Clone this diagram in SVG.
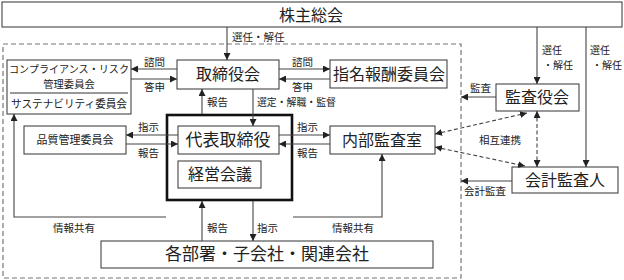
<svg xmlns="http://www.w3.org/2000/svg" width="624" height="280" viewBox="0 0 624 280">
<defs>
<marker id="ah" viewBox="0 0 10 10" refX="10" refY="5" markerWidth="7" markerHeight="7" markerUnits="userSpaceOnUse" orient="auto-start-reverse">
<path d="M0,0 L10,5 L0,10 z" fill="#222"/>
</marker>
<style>
.box{fill:#fff;stroke:#333;stroke-width:1}
.thick{fill:#fff;stroke:#111;stroke-width:2.6}
.ln{fill:none;stroke:#444;stroke-width:1.1}
.dl{fill:none;stroke:#444;stroke-width:1.1;stroke-dasharray:4,2.5}
.bd{fill:none;stroke:#777;stroke-width:1.2;stroke-dasharray:5,3}
text{font-family:"Noto Sans CJK JP","Noto Sans CJK SC",sans-serif;fill:#222}
.t16{font-size:16px;text-anchor:middle}
.t17{font-size:17px;text-anchor:middle}
.t11{font-size:11px;text-anchor:middle}
.t10{font-size:10.3px;text-anchor:middle}
.lb{font-size:10.5px}
.ls{font-size:10px}
</style>
</defs>
<rect x="3" y="44" width="458" height="234" class="bd"/>
<g id="shareholders"><rect x="2" y="2" width="620" height="25" class="box"/><text x="311" y="21" class="t16">株主総会</text></g>
<g id="board"><rect x="177" y="60" width="102" height="29" class="box"/><text x="228" y="80" class="t16">取締役会</text></g>
<g id="compliance"><rect x="7" y="60" width="124" height="54" class="box"/>
<text x="69" y="72.5" class="t10" textLength="120" lengthAdjust="spacingAndGlyphs">コンプライアンス・リスク</text>
<text x="69" y="88" class="t10">管理委員会</text>
<line x1="10" y1="93" x2="128" y2="93" stroke="#333" stroke-width="1"/>
<text x="69" y="108" class="t11" textLength="116" lengthAdjust="spacingAndGlyphs">サステナビリティ委員会</text></g>
<g id="nomination"><rect x="330" y="60" width="117" height="28" class="box"/><text x="389" y="80" class="t16">指名報酬委員会</text></g>
<g id="auditboard"><rect x="496" y="84" width="83" height="27" class="box"/><text x="537" y="103" class="t16">監査役会</text></g>
<g id="ceo"><rect x="167" y="115" width="125" height="85" class="thick"/>
<rect x="178" y="126" width="101" height="28" class="box"/><text x="228" y="146" class="t17">代表取締役</text>
<rect x="178" y="161" width="83" height="27" class="box"/><text x="220" y="180" class="t16">経営会議</text></g>
<g id="quality"><rect x="24" y="126" width="102" height="28" class="box"/><text x="75" y="144" class="t11">品質管理委員会</text></g>
<g id="internalaudit"><rect x="330" y="126" width="105" height="28" class="box"/><text x="382" y="146" class="t16">内部監査室</text></g>
<g id="accountant"><rect x="512" y="167" width="106" height="26" class="box"/><text x="565" y="186" class="t16">会計監査人</text></g>
<g id="departments"><rect x="101" y="241" width="332" height="27" class="box"/><text x="267" y="260" class="t17">各部署・子会社・関連会社</text></g>
<g id="connectors">
<path d="M227,27 V60" class="ln" marker-end="url(#ah)"/>
<path d="M177,69 H131" class="ln" marker-end="url(#ah)"/>
<path d="M131,79 H177" class="ln" marker-end="url(#ah)"/>
<path d="M279,69 H330" class="ln" marker-end="url(#ah)"/>
<path d="M330,79 H279" class="ln" marker-end="url(#ah)"/>
<path d="M202,114 V89" class="ln" marker-end="url(#ah)"/>
<path d="M253,89 V126" class="ln" marker-end="url(#ah)"/>
<path d="M178,135 H126" class="ln" marker-end="url(#ah)"/>
<path d="M126,144 H178" class="ln" marker-end="url(#ah)"/>
<path d="M279,135 H330" class="ln" marker-end="url(#ah)"/>
<path d="M330,144 H279" class="ln" marker-end="url(#ah)"/>
<path d="M166,217 H14 V114" class="ln" marker-end="url(#ah)"/>
<path d="M293,217 H382 V154" class="ln" marker-end="url(#ah)"/>
<path d="M202,241 V201" class="ln" marker-end="url(#ah)"/>
<path d="M253,201 V241" class="ln" marker-end="url(#ah)"/>
<path d="M537,27 V84" class="ln" marker-end="url(#ah)"/>
<path d="M586,27 V167" class="ln" marker-end="url(#ah)"/>
<path d="M496,97 H461" class="ln" marker-end="url(#ah)"/>
<path d="M512,181 H461" class="ln" marker-end="url(#ah)"/>
<path d="M435,134 L527,113" class="dl" marker-start="url(#ah)" marker-end="url(#ah)"/>
<path d="M435,147 L525,166" class="dl" marker-start="url(#ah)" marker-end="url(#ah)"/>
<path d="M537,111 V167" class="dl" marker-start="url(#ah)" marker-end="url(#ah)"/>
</g>
<g id="labels">
<text x="232" y="41" class="lb">選任・解任</text>
<text x="144" y="66" class="lb">諮問</text>
<text x="144" y="91" class="lb">答申</text>
<text x="292" y="66" class="lb">諮問</text>
<text x="292" y="91" class="lb">答申</text>
<text x="207" y="106" class="lb">報告</text>
<text x="257" y="106" class="lb" textLength="79" lengthAdjust="spacingAndGlyphs">選定・解職・監督</text>
<text x="138" y="131" class="lb">指示</text>
<text x="138" y="157" class="lb">報告</text>
<text x="297" y="131" class="lb">指示</text>
<text x="297" y="157" class="lb">報告</text>
<text x="470" y="92" class="lb">監査</text>
<text x="542" y="54" class="ls">選任</text>
<text x="543" y="69" class="ls">・解任</text>
<text x="590" y="54" class="ls">選任</text>
<text x="592" y="69" class="ls">・解任</text>
<text x="479" y="144" class="lb">相互連携</text>
<text x="464" y="195" class="lb">会計監査</text>
<text x="53" y="232" class="lb">情報共有</text>
<text x="332" y="232" class="lb">情報共有</text>
<text x="207" y="232" class="lb">報告</text>
<text x="257" y="232" class="lb">指示</text>
</g>
</svg>
